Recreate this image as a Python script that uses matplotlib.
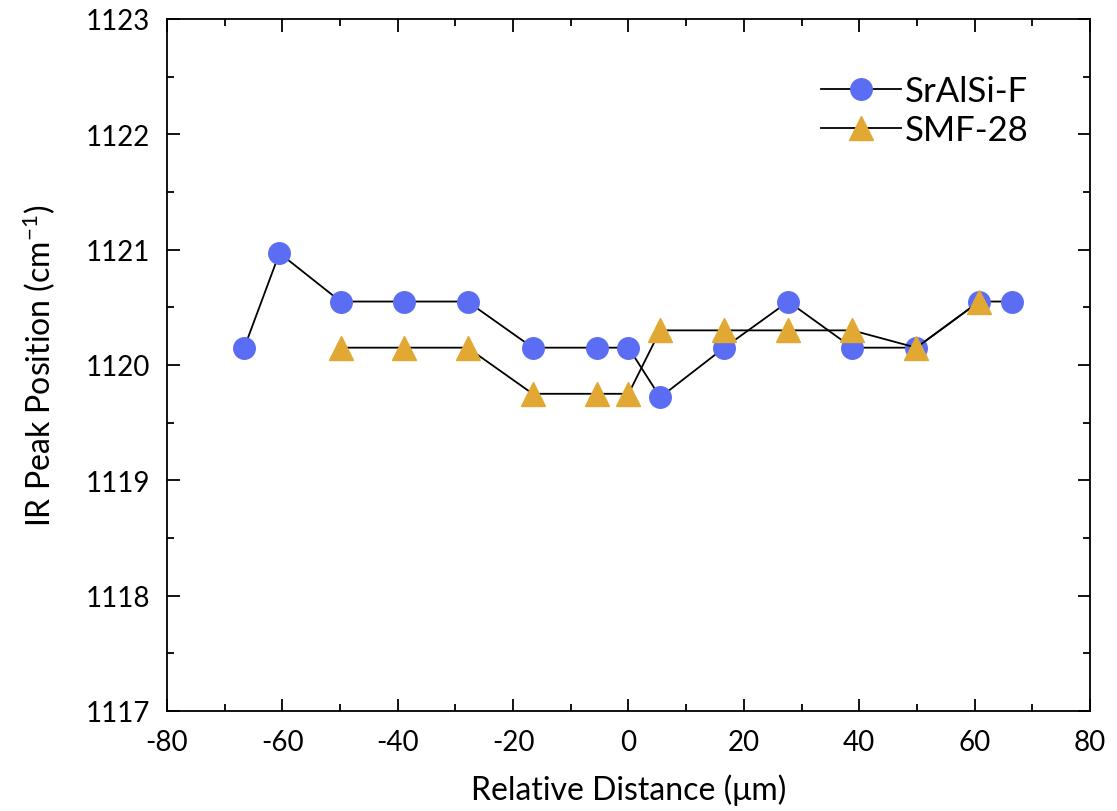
import matplotlib.pyplot as plt
import matplotlib.ticker as tkr

plt.rcParams['font.family'] = ['Lato', 'DejaVu Sans']
plt.rcParams['axes.unicode_minus'] = False
plt.rcParams['mathtext.default'] = 'regular'

# positions across the fibre (um) and IR peak positions (cm^-1)
sralsi_x = [-66.6, -60.5, -49.9, -39.0, -27.9, -16.6, -5.5, 0.0, 5.5, 16.6, 27.7, 38.8, 49.9, 60.8, 66.5]
sralsi_y = [1120.15, 1120.97, 1120.55, 1120.55, 1120.55, 1120.15, 1120.15, 1120.15,
            1119.72, 1120.15, 1120.55, 1120.15, 1120.15, 1120.55, 1120.55]

smf_x = [-49.9, -39.0, -27.9, -16.6, -5.5, 0.0, 5.5, 16.6, 27.7, 38.8, 49.9, 60.8]
smf_y = [1120.15, 1120.15, 1120.15, 1119.75, 1119.75, 1119.75,
         1120.3, 1120.3, 1120.3, 1120.3, 1120.15, 1120.55]

BLUE = "#5b6ef3"
GOLD = "#e2a834"

fig = plt.figure(figsize=(11.17, 8.12), dpi=100)
ax = fig.add_axes([0.1495, 0.1232, 0.8263, 0.8522])

ax.plot(sralsi_x, sralsi_y, "-", color="black", lw=1.3, marker="o", ms=15.5,
        mfc=BLUE, mec=BLUE, label="SrAlSi-F", zorder=3)
ax.plot(smf_x, smf_y, "-", color="black", lw=1.3, marker="^", ms=17,
        mfc=GOLD, mec=GOLD, label="SMF-28", zorder=4)

ax.set_xlim(-80, 80)
ax.set_ylim(1117, 1123)
ax.xaxis.set_major_locator(tkr.MultipleLocator(20))
ax.xaxis.set_minor_locator(tkr.MultipleLocator(10))
ax.yaxis.set_major_locator(tkr.MultipleLocator(1))
ax.yaxis.set_minor_locator(tkr.MultipleLocator(0.5))
ax.tick_params(which="both", direction="in", top=True, right=True, width=1.3)
ax.tick_params(which="major", length=9, labelsize=20)
ax.tick_params(which="minor", length=5)
ax.tick_params(axis="x", which="major", pad=13)
ax.tick_params(axis="y", which="major", pad=12)
for s in ax.spines.values():
    s.set_linewidth(1.3)

ax.set_xlabel("Relative Distance (\u03bcm)", fontsize=23, labelpad=13)
ax.set_ylabel("IR Peak Position (cm$^{-1}$)", fontsize=23, labelpad=20)

ax.legend(loc="upper left", frameon=False, fontsize=25, handlelength=2.3,
          borderaxespad=0, borderpad=0, labelspacing=0.2, handletextpad=0.1,
          bbox_to_anchor=(0.709, 0.919))

fig.savefig("out.png", dpi=100)
